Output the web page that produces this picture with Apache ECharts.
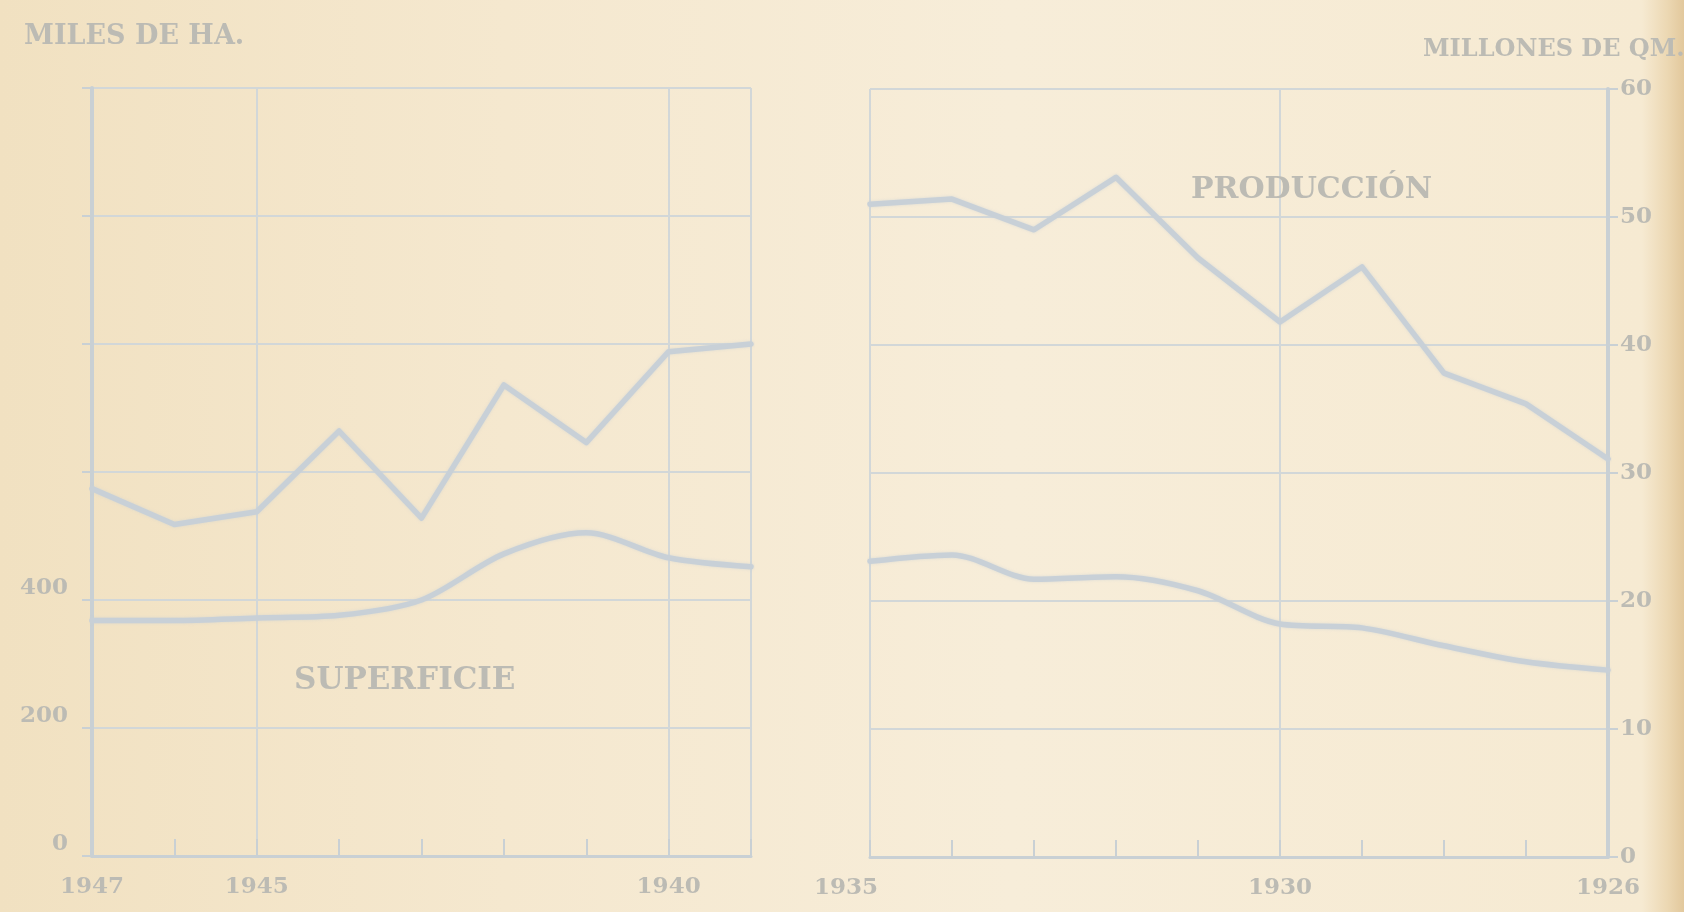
<!DOCTYPE html>
<html>
<head>
<meta charset="utf-8">
<script src="https://cdn.jsdelivr.net/npm/echarts@6/dist/echarts.min.js"></script>
<style>
  html, body { margin: 0; padding: 0; background: #f4e7cd; }
  #chart { width: 1684px; height: 912px; }
</style>
</head>
<body>
<div id="chart"></div>
<script>
// ---- data ----
// Panel on the right of the picture: 1926-1935 (time runs right to left)
const yearsA = ['1926','1927','1928','1929','1930','1931','1932','1933','1934','1935'];
const produccionA = [31.1, 35.4, 37.8, 46.1, 41.8, 46.8, 53.1, 49.0, 51.4, 51.0];   // millones de Qm.
const superficieA = [292, 305, 330, 358, 364, 416, 438, 434, 472, 462];             // miles de Ha.
// Panel on the left of the picture: 1939-1947
const yearsB = ['1939','1940','1941','1942','1943','1944','1945','1946','1947'];
const produccionB = [40.0, 39.4, 32.3, 36.8, 26.4, 33.2, 26.9, 25.9, 28.7];
const superficieB = [452, 466, 505, 472, 400, 376, 372, 368, 368];
// tick labels
const labelsA = ['1926', '1930', '1935'];
const labelsB = ['1940', '1945', '1947'];
const gridYearsA = ['1930', '1935'];
const gridYearsB = ['1939', '1940', '1945'];
const haLabels = [0, 200, 400];

const FONT = 'DejaVu Serif';
const TXT = '#bcbbb4';
const GRID = '#d2d7d8';
const AXIS = '#c9d0d4';
const LINE = '#c8d0d7';

const chart = echarts.init(document.getElementById('chart'));

function xAxisFor(gridIndex, years, labels, gridYears) {
  return {
    type: 'category', gridIndex, data: years, inverse: true, boundaryGap: false,
    axisLine: { show: true, lineStyle: { color: AXIS, width: 3 } },
    axisTick: { show: true, inside: true, length: 17, interval: 0, lineStyle: { color: AXIS, width: 2 } },
    axisLabel: {
      interval: 0, margin: 20, color: TXT, fontFamily: FONT, fontWeight: 'bold', fontSize: 23,
      formatter: v => labels.includes(v) ? (v === '1935' ? '{s|' + v + '}' : v) : '',
      rich: { s: { padding: [0, 48, 0, 0], color: TXT, fontFamily: FONT, fontWeight: 'bold', fontSize: 23 } }
    },
    splitLine: { show: true, interval: (i, v) => gridYears.includes(v), lineStyle: { color: GRID, width: 2 } }
  };
}

const lineStyle = { color: LINE, width: 5.5, join: 'round', cap: 'round', shadowColor: 'rgba(200,208,215,0.6)', shadowBlur: 3 };

const option = {
  animation: false,
  backgroundColor: {
    type: 'linear', x: 0, y: 0, x2: 1, y2: 0,
    colorStops: [
      { offset: 0, color: '#f1e1c1' },
      { offset: 0.3, color: '#f5e8cf' },
      { offset: 0.6, color: '#f7edd9' },
      { offset: 0.975, color: '#f6ead2' },
      { offset: 0.99, color: '#ecd8b3' },
      { offset: 1, color: '#e2c89c' }
    ]
  },
  title: [
    { text: 'MILES DE HA.', left: 19, top: 18, textStyle: { fontFamily: FONT, fontWeight: 'bold', fontSize: 27, color: TXT } },
    { text: 'MILLONES DE QM.', left: 1418, top: 33, textStyle: { fontFamily: FONT, fontWeight: 'bold', fontSize: 24, color: TXT } },
    { text: 'SUPERFICIE', left: 289, top: 660, textStyle: { fontFamily: FONT, fontWeight: 'bold', fontSize: 31, color: TXT } },
    { text: 'PRODUCCIÓN', left: 1186, top: 170, textStyle: { fontFamily: FONT, fontWeight: 'bold', fontSize: 30, color: TXT } }
  ],
  grid: [
    { left: 92, right: 933, top: 88, bottom: 56 },
    { left: 870, right: 76, top: 89, bottom: 55 }
  ],
  xAxis: [
    xAxisFor(0, yearsB, labelsB, gridYearsB),
    xAxisFor(1, yearsA, labelsA, gridYearsA)
  ],
  yAxis: [
    { // miles de Ha., left panel
      type: 'value', gridIndex: 0, position: 'left', min: 0, max: 1200, interval: 200,
      axisLine: { show: true, lineStyle: { color: AXIS, width: 4 } },
      axisTick: { show: true, length: 10, lineStyle: { color: AXIS, width: 2 } },
      axisLabel: {
        margin: 24, color: TXT, fontFamily: FONT, fontWeight: 'bold', fontSize: 23, verticalAlign: 'bottom',
        formatter: v => haLabels.includes(v) ? String(v) : ''
      },
      splitLine: { show: true, lineStyle: { color: GRID, width: 2 } }
    },
    { type: 'value', gridIndex: 0, min: 0, max: 60, interval: 10, show: false },
    { // millones de Qm., right panel
      type: 'value', gridIndex: 1, position: 'right', min: 0, max: 60, interval: 10,
      axisLine: { show: true, lineStyle: { color: AXIS, width: 4 } },
      axisTick: { show: true, length: 10, lineStyle: { color: AXIS, width: 2 } },
      axisLabel: {
        margin: 12, color: TXT, fontFamily: FONT, fontWeight: 'bold', fontSize: 23,
        padding: [12, 0, 0, 0]
      },
      splitLine: { show: true, lineStyle: { color: GRID, width: 2 } }
    },
    { type: 'value', gridIndex: 1, min: 0, max: 1200, interval: 200, show: false }
  ],
  series: [
    { type: 'line', name: 'Producción', xAxisIndex: 0, yAxisIndex: 1, data: produccionB, symbol: 'none', lineStyle },
    { type: 'line', name: 'Superficie', xAxisIndex: 0, yAxisIndex: 0, data: superficieB, symbol: 'none', smooth: 0.3, lineStyle },
    { type: 'line', name: 'Producción', xAxisIndex: 1, yAxisIndex: 2, data: produccionA, symbol: 'none', lineStyle },
    { type: 'line', name: 'Superficie', xAxisIndex: 1, yAxisIndex: 3, data: superficieA, symbol: 'none', smooth: 0.3, lineStyle }
  ]
};
chart.setOption(option);
</script>
</body>
</html>
